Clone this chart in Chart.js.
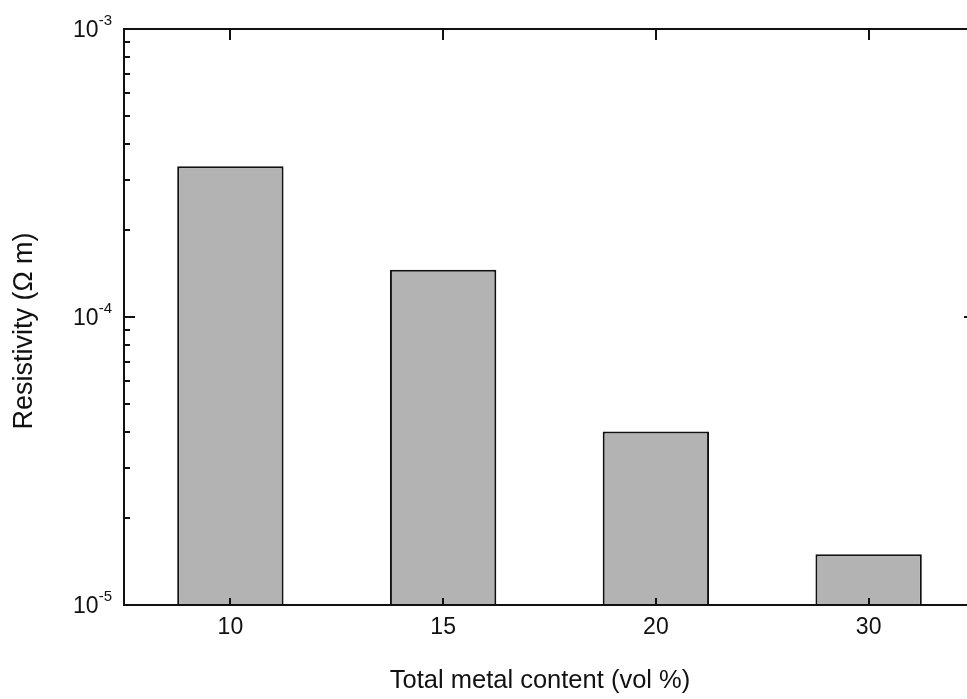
<!DOCTYPE html>
<html>
<head>
<meta charset="utf-8">
<script src="https://cdn.jsdelivr.net/npm/chart.js@4"></script>
<style>
  html, body { margin: 0; padding: 0; background: #fff; overflow: hidden; }
  #wrap { width: 1000px; height: 699px; }
</style>
</head>
<body>
<div id="wrap"><canvas id="myChart" width="1000" height="699"></canvas></div>
<script>
// Data
const categories = ["10", "15", "20", "30"];
const resistivity = [3.34e-4, 1.46e-4, 4.0e-5, 1.5e-5];
const yMajorTicks = [1e-5, 1e-4, 1e-3];
const yMajorLabels = ["-5", "-4", "-3"];
const xTitle = "Total metal content (vol %)";
const yTitle = "Resistivity (\u03A9 m)";

const FONT = "Liberation Sans, Arial, sans-serif";

// Plugin untuk sumbu, tick ke dalam, label pangkat dan judul
const axesPlugin = {
  id: "axesPlugin",
  afterDatasetsDraw(chart) {
    const ctx = chart.ctx;
    const a = chart.chartArea;
    const xs = chart.scales.x;
    const ys = chart.scales.y;
    ctx.save();
    ctx.strokeStyle = "#111";
    ctx.lineWidth = 2;
    ctx.strokeRect(a.left, a.top, a.right - a.left, a.bottom - a.top);

    // tick x (atas dan bawah, ke dalam)
    categories.forEach((c, i) => {
      const px = Math.round(xs.getPixelForValue(i));
      ctx.beginPath();
      ctx.moveTo(px, a.bottom);
      ctx.lineTo(px, a.bottom - 7);
      ctx.moveTo(px, a.top);
      ctx.lineTo(px, a.top + 11);
      ctx.stroke();
    });

    // tick y minor dan major
    for (let e = -5; e < -3; e++) {
      for (let m = 1; m <= 9; m++) {
        const v = m * Math.pow(10, e);
        const py = Math.round(ys.getPixelForValue(v));
        const len = m === 1 ? 11 : 6;
        ctx.beginPath();
        ctx.moveTo(a.left, py);
        ctx.lineTo(a.left + len, py);
        ctx.moveTo(a.right, py);
        ctx.lineTo(a.right - len, py);
        ctx.stroke();
      }
    }

    // label x
    ctx.fillStyle = "#111";
    ctx.font = "23px " + FONT;
    ctx.textAlign = "center";
    ctx.textBaseline = "middle";
    categories.forEach((c, i) => {
      ctx.fillText(c, xs.getPixelForValue(i), 628);
    });

    // label y 10^n
    yMajorTicks.forEach((v, i) => {
      const py = ys.getPixelForValue(v);
      ctx.font = "15px " + FONT;
      const supW = ctx.measureText(yMajorLabels[i]).width;
      const right = a.left - 12;
      ctx.textAlign = "left";
      ctx.textBaseline = "alphabetic";
      ctx.fillText(yMajorLabels[i], right - supW, py - 4);
      ctx.font = "23px " + FONT;
      ctx.textAlign = "right";
      ctx.fillText("10", right - supW, py + 8);
    });

    // judul sumbu
    ctx.font = "25.5px " + FONT;
    ctx.textAlign = "center";
    ctx.textBaseline = "middle";
    ctx.fillText(xTitle, 540, 681);
    ctx.font = "27px " + FONT;
    ctx.translate(25, 331);
    ctx.rotate(-Math.PI / 2);
    ctx.fillText(yTitle, 0, 0);
    ctx.restore();
  }
};

const data = {
  labels: categories,
  datasets: [
    {
      label: "Resistivity",
      data: resistivity,
      backgroundColor: "#b3b3b3",
      borderColor: "#111",
      borderWidth: 2,
      borderSkipped: "bottom",
      barPercentage: 0.5,
      categoryPercentage: 1.0,
    },
  ],
};

const config = {
  type: "bar",
  data: data,
  options: {
    responsive: false,
    animation: false,
    layout: { padding: { left: 124, top: 29, right: 25, bottom: 94 } },
    plugins: { legend: { display: false }, tooltip: { enabled: false } },
    scales: {
      x: { display: false, offset: true },
      y: { type: "logarithmic", display: false, min: 1e-5, max: 1e-3 },
    },
  },
  plugins: [axesPlugin],
};

new Chart(document.getElementById("myChart"), config);
</script>
</body>
</html>
